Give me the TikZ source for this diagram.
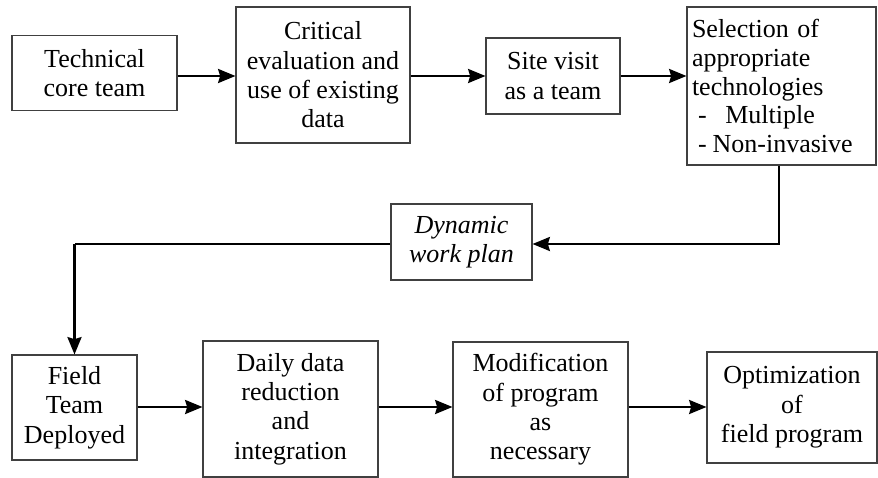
\documentclass[tikz,border=0pt]{standalone}
\usepackage{fontspec}
\setmainfont{Liberation Serif}
\usetikzlibrary{arrows.meta}
\begin{document}
\begin{tikzpicture}[x=0.75pt,y=-0.75pt,
  bx/.style 2 args={draw=black!75, line width=0.8pt, inner sep=0pt,
    minimum width=#1*0.75pt, minimum height=#2*0.75pt, align=center,
    font=\fontsize{19.5}{22}\selectfont},
  arr/.style={line width=1.8pt, -{Stealth[length=13pt,width=10.5pt,inset=1.5pt]}},
  thin link/.style={line width=1.2pt},
  ]
\useasboundingbox (0,0) rectangle (878,478);
% top row
\node[bx={165}{75}]  (b1) at (94.5,73) {Technical\\core team};
\node[bx={174}{136}] (b2) at (323,75) {Critical\\evaluation and\\use of existing\\data};
\node[bx={134}{76}]  (b3) at (553,76) {Site visit\\as a team};
\node[bx={189}{158}, align=left, text width=179*0.75pt, inner xsep=5*0.75pt,
      font=\fontsize{19.5}{21.4}\selectfont] (b4) at (781.5,86)
  {Selection of\\appropriate\\technologies\\\hspace*{4.5pt}-\hspace{14pt}Multiple\\\hspace*{4.5pt}-\hspace{4.5pt}Non-invasive};
% middle
\node[bx={141}{76}, font=\fontsize{19.5}{22}\selectfont\itshape] (dyn) at (461.5,242) {Dynamic\\work plan};
% bottom row
\node[bx={125}{105}] (f) at (74.5,407.5) {Field\\Team\\Deployed};
\node[bx={175}{136}] (d) at (290.5,409) {Daily data\\reduction\\and\\integration};
\node[bx={175}{135}] (m) at (540.5,409.5) {Modification\\of program\\as\\necessary};
\node[bx={170}{111}] (o) at (792,407.5) {Optimization\\of\\field program};
% levels
\coordinate (r1) at (0,76);
\coordinate (r2) at (0,407);
\coordinate (k1) at (779,244);
\coordinate (k2) at (74.5,244);
% connectors
\draw[arr] (b1.east |- r1) -- (b2.west |- r1);
\draw[arr] (b2.east |- r1) -- (b3.west |- r1);
\draw[arr] (b3.east |- r1) -- (b4.west |- r1);
\draw[arr] (b4.south -| k1) -- (k1) -- (dyn.east |- k1);
\draw[thin link] (dyn.west |- k2) -- (k2);
\draw[arr] (k2) -- (f.north);
\draw[arr] (f.east |- r2) -- (d.west |- r2);
\draw[arr] (d.east |- r2) -- (m.west |- r2);
\draw[arr] (m.east |- r2) -- (o.west |- r2);
\end{tikzpicture}
\end{document}
